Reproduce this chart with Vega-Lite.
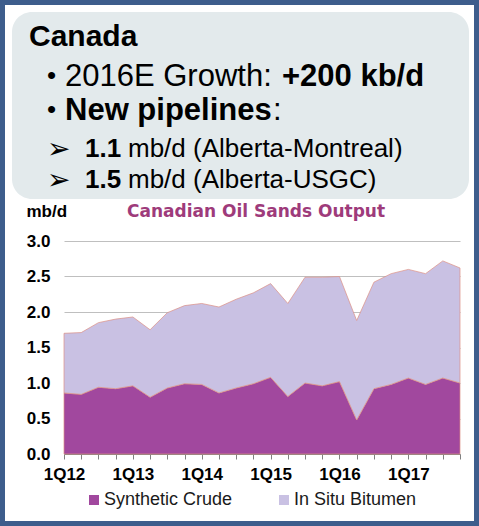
{
  "$schema": "https://vega.github.io/schema/vega-lite/v6.json",
  "width": 396,
  "height": 213,
  "autosize": {"type": "none"},
  "padding": {"left": 64, "top": 241, "right": 19, "bottom": 72},
  "background": "white",
  "config": {"view": {"stroke": null}},
  "datasets": {
    "oil": [
      {"q": "1Q12", "series": "Synthetic Crude", "value": 0.86},
      {"q": "2Q12", "series": "Synthetic Crude", "value": 0.84},
      {"q": "3Q12", "series": "Synthetic Crude", "value": 0.94},
      {"q": "4Q12", "series": "Synthetic Crude", "value": 0.92},
      {"q": "1Q13", "series": "Synthetic Crude", "value": 0.96},
      {"q": "2Q13", "series": "Synthetic Crude", "value": 0.80},
      {"q": "3Q13", "series": "Synthetic Crude", "value": 0.93},
      {"q": "4Q13", "series": "Synthetic Crude", "value": 0.99},
      {"q": "1Q14", "series": "Synthetic Crude", "value": 0.98},
      {"q": "2Q14", "series": "Synthetic Crude", "value": 0.86},
      {"q": "3Q14", "series": "Synthetic Crude", "value": 0.93},
      {"q": "4Q14", "series": "Synthetic Crude", "value": 0.99},
      {"q": "1Q15", "series": "Synthetic Crude", "value": 1.08},
      {"q": "2Q15", "series": "Synthetic Crude", "value": 0.81},
      {"q": "3Q15", "series": "Synthetic Crude", "value": 1.00},
      {"q": "4Q15", "series": "Synthetic Crude", "value": 0.96},
      {"q": "1Q16", "series": "Synthetic Crude", "value": 1.02},
      {"q": "2Q16", "series": "Synthetic Crude", "value": 0.48},
      {"q": "3Q16", "series": "Synthetic Crude", "value": 0.92},
      {"q": "4Q16", "series": "Synthetic Crude", "value": 0.98},
      {"q": "1Q17", "series": "Synthetic Crude", "value": 1.07},
      {"q": "2Q17", "series": "Synthetic Crude", "value": 0.98},
      {"q": "3Q17", "series": "Synthetic Crude", "value": 1.07},
      {"q": "4Q17", "series": "Synthetic Crude", "value": 1.00},
      {"q": "1Q12", "series": "In Situ Bitumen", "value": 0.84},
      {"q": "2Q12", "series": "In Situ Bitumen", "value": 0.87},
      {"q": "3Q12", "series": "In Situ Bitumen", "value": 0.91},
      {"q": "4Q12", "series": "In Situ Bitumen", "value": 0.98},
      {"q": "1Q13", "series": "In Situ Bitumen", "value": 0.97},
      {"q": "2Q13", "series": "In Situ Bitumen", "value": 0.95},
      {"q": "3Q13", "series": "In Situ Bitumen", "value": 1.06},
      {"q": "4Q13", "series": "In Situ Bitumen", "value": 1.10},
      {"q": "1Q14", "series": "In Situ Bitumen", "value": 1.14},
      {"q": "2Q14", "series": "In Situ Bitumen", "value": 1.21},
      {"q": "3Q14", "series": "In Situ Bitumen", "value": 1.25},
      {"q": "4Q14", "series": "In Situ Bitumen", "value": 1.28},
      {"q": "1Q15", "series": "In Situ Bitumen", "value": 1.32},
      {"q": "2Q15", "series": "In Situ Bitumen", "value": 1.31},
      {"q": "3Q15", "series": "In Situ Bitumen", "value": 1.49},
      {"q": "4Q15", "series": "In Situ Bitumen", "value": 1.53},
      {"q": "1Q16", "series": "In Situ Bitumen", "value": 1.48},
      {"q": "2Q16", "series": "In Situ Bitumen", "value": 1.40},
      {"q": "3Q16", "series": "In Situ Bitumen", "value": 1.50},
      {"q": "4Q16", "series": "In Situ Bitumen", "value": 1.56},
      {"q": "1Q17", "series": "In Situ Bitumen", "value": 1.53},
      {"q": "2Q17", "series": "In Situ Bitumen", "value": 1.56},
      {"q": "3Q17", "series": "In Situ Bitumen", "value": 1.65},
      {"q": "4Q17", "series": "In Situ Bitumen", "value": 1.62}
    ]
  },
  "layer": [
    {
      "data": {"values": [{}]},
      "mark": {"type": "rect", "fill": "#E3EAEC", "cornerRadius": 20},
      "encoding": {"x": {"value": -52}, "x2": {"value": 405}, "y": {"value": -229}, "y2": {"value": -42}}
    },
    {
      "data": {"values": [{"t": "Canada"}]},
      "mark": {"type": "text", "align": "left", "baseline": "alphabetic", "font": "Liberation Sans", "fontSize": 30, "fontWeight": "bold", "color": "#000000"},
      "encoding": {"text": {"field": "t"}, "x": {"value": -35}, "y": {"value": -195}}
    },
    {
      "data": {"values": [{"t": "•"}]},
      "mark": {"type": "text", "align": "left", "baseline": "alphabetic", "font": "Liberation Sans", "fontSize": 26, "color": "#000000"},
      "encoding": {"text": {"field": "t"}, "x": {"value": -17}, "y": {"value": -157}}
    },
    {
      "data": {"values": [{"t": "2016E Growth:"}]},
      "mark": {"type": "text", "align": "left", "baseline": "alphabetic", "font": "Liberation Sans", "fontSize": 31, "color": "#000000"},
      "encoding": {"text": {"field": "t"}, "x": {"value": 1}, "y": {"value": -155}}
    },
    {
      "data": {"values": [{"t": "+200 kb/d"}]},
      "mark": {"type": "text", "align": "left", "baseline": "alphabetic", "font": "Liberation Sans", "fontSize": 31, "fontWeight": "bold", "color": "#000000"},
      "encoding": {"text": {"field": "t"}, "x": {"value": 218}, "y": {"value": -155}}
    },
    {
      "data": {"values": [{"t": "•"}]},
      "mark": {"type": "text", "align": "left", "baseline": "alphabetic", "font": "Liberation Sans", "fontSize": 26, "color": "#000000"},
      "encoding": {"text": {"field": "t"}, "x": {"value": -17}, "y": {"value": -123}}
    },
    {
      "data": {"values": [{"t": "New pipelines"}]},
      "mark": {"type": "text", "align": "left", "baseline": "alphabetic", "font": "Liberation Sans", "fontSize": 31, "fontWeight": "bold", "color": "#000000"},
      "encoding": {"text": {"field": "t"}, "x": {"value": 1}, "y": {"value": -121}}
    },
    {
      "data": {"values": [{"t": ":"}]},
      "mark": {"type": "text", "align": "left", "baseline": "alphabetic", "font": "Liberation Sans", "fontSize": 31, "color": "#000000"},
      "encoding": {"text": {"field": "t"}, "x": {"value": 209}, "y": {"value": -121}}
    },
    {
      "data": {"values": [{"t": "➢"}]},
      "mark": {"type": "text", "align": "left", "baseline": "alphabetic", "font": "DejaVu Sans", "fontSize": 28, "color": "#000000"},
      "encoding": {"text": {"field": "t"}, "x": {"value": -17}, "y": {"value": -83}}
    },
    {
      "data": {"values": [{"t": "➢"}]},
      "mark": {"type": "text", "align": "left", "baseline": "alphabetic", "font": "DejaVu Sans", "fontSize": 28, "color": "#000000"},
      "encoding": {"text": {"field": "t"}, "x": {"value": -17}, "y": {"value": -52}}
    },
    {
      "data": {"values": [{"t": "1.1"}]},
      "mark": {"type": "text", "align": "left", "baseline": "alphabetic", "font": "Liberation Sans", "fontSize": 26, "fontWeight": "bold", "color": "#000000"},
      "encoding": {"text": {"field": "t"}, "x": {"value": 21}, "y": {"value": -84}}
    },
    {
      "data": {"values": [{"t": "mb/d (Alberta-Montreal)"}]},
      "mark": {"type": "text", "align": "left", "baseline": "alphabetic", "font": "Liberation Sans", "fontSize": 26, "color": "#000000"},
      "encoding": {"text": {"field": "t"}, "x": {"value": 64}, "y": {"value": -84}}
    },
    {
      "data": {"values": [{"t": "1.5"}]},
      "mark": {"type": "text", "align": "left", "baseline": "alphabetic", "font": "Liberation Sans", "fontSize": 26, "fontWeight": "bold", "color": "#000000"},
      "encoding": {"text": {"field": "t"}, "x": {"value": 21}, "y": {"value": -53}}
    },
    {
      "data": {"values": [{"t": "mb/d (Alberta-USGC)"}]},
      "mark": {"type": "text", "align": "left", "baseline": "alphabetic", "font": "Liberation Sans", "fontSize": 26, "color": "#000000"},
      "encoding": {"text": {"field": "t"}, "x": {"value": 64}, "y": {"value": -53}}
    },
    {
      "data": {"values": [{"t": "Canadian Oil Sands Output"}]},
      "mark": {"type": "text", "align": "center", "baseline": "alphabetic", "font": "DejaVu Sans", "fontSize": 17, "fontWeight": "bold", "color": "#9E3B7B"},
      "encoding": {"text": {"field": "t"}, "x": {"value": 192}, "y": {"value": -24}}
    },
    {
      "data": {"name": "oil"},
      "mark": {"type": "area", "stroke": "#DC8F84", "strokeWidth": 0.7},
      "encoding": {
        "x": {
          "field": "q", "type": "ordinal", "sort": null,
          "scale": {"type": "point", "padding": 0},
          "axis": {
            "title": null, "labelAngle": 0,
            "labelExpr": "indexof(datum.label, '1Q') == 0 ? datum.label : ''",
            "labelFont": "Liberation Sans", "labelFontSize": 17, "labelFontWeight": "bold", "labelColor": "#000000",
            "labelPadding": 7, "labelOverlap": false, "labelBound": false,
            "tickSize": 5, "tickColor": "#808080", "domainColor": "#808080", "grid": false
          }
        },
        "y": {
          "field": "value", "type": "quantitative", "stack": "zero",
          "scale": {"domain": [0, 3], "nice": false},
          "axis": {
            "values": [0, 0.5, 1, 1.5, 2, 2.5, 3], "format": ".1f",
            "title": "mb/d", "titleAngle": 0, "titleAlign": "left", "titleBaseline": "alphabetic",
            "titleX": -38, "titleY": -25,
            "titleFont": "Liberation Sans", "titleFontSize": 17, "titleFontWeight": "bold", "titleColor": "#000000",
            "labelFont": "Liberation Sans", "labelFontSize": 17, "labelFontWeight": "bold", "labelColor": "#000000",
            "ticks": false, "tickSize": 0, "domain": false, "labelPadding": 14,
            "gridColor": "#BFBFBF", "gridWidth": 1
          }
        },
        "color": {
          "field": "series", "type": "nominal",
          "scale": {"domain": ["Synthetic Crude", "In Situ Bitumen"], "range": ["#A1489E", "#C9C1E3"]},
          "legend": {
            "title": null, "orient": "none", "legendX": 21, "legendY": 250, "direction": "horizontal",
            "symbolType": "square", "symbolSize": 100, "symbolStrokeWidth": 0,
            "labelFont": "Liberation Sans", "labelFontSize": 18, "labelColor": "#1A1A1A",
            "labelOffset": 1, "columnPadding": 42, "padding": 0, "labelLimit": 300
          }
        },
        "order": {"field": "series", "sort": "descending"}
      }
    },
    {
      "data": {"values": [{}]},
      "mark": {"type": "rect", "fillOpacity": 0, "stroke": "#3D5D8C", "strokeWidth": 5},
      "encoding": {"x": {"value": -61.5}, "x2": {"value": 412.5}, "y": {"value": -238.5}, "y2": {"value": 282.5}}
    }
  ]
}
